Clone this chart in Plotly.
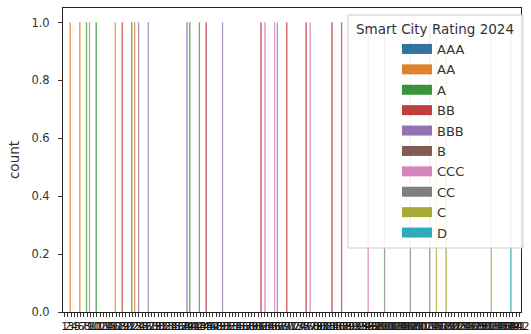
import plotly.graph_objects as go

# ---- data ----
n_cities = 142
city_ranks = [str(i) for i in range(1, n_cities + 1)]          # x categories (tick labels)
rating_levels = ["AAA", "AA", "A", "BB", "BBB", "B", "CCC", "CC", "C", "D"]
rating_colors = ["#3274a1", "#e1812c", "#3a923a", "#c03d3e", "#9372b2",
                 "#845b53", "#d684bd", "#7f7f7f", "#a9aa35", "#2eabb8"]

bar_rank = ["3", "6", "8", "9", "11", "17", "19", "22", "23", "24", "27", "39", "40",
            "43", "45", "50", "62", "63", "66", "67", "70", "76", "77", "84", "87",
            "95", "100", "108", "114", "116", "119", "133", "139"]
bar_rating = ["AA", "AA", "A", "AA", "A", "AA", "BB", "A", "AA", "BBB", "BBB", "BBB", "A",
              "A", "BB", "BBB", "BB", "CCC", "CCC", "BBB", "BB", "BB", "CCC", "BB", "BB",
              "CCC", "CC", "CC", "CC", "C", "C", "C", "D"]
bar_count = [1] * len(bar_rank)

# ---- figure ----
W, H = 531, 334
L, R, T, B = 63, 10, 8, 22
pw, ph = W - L - R, H - T - B

fig = go.Figure()
nlev = len(rating_levels)
group_w = 0.8
bw = group_w / nlev
for k, (lev, col) in enumerate(zip(rating_levels, rating_colors)):
    xs = [r for r, g in zip(bar_rank, bar_rating) if g == lev]
    ys = [c for c, g in zip(bar_count, bar_rating) if g == lev]
    fig.add_trace(go.Bar(
        x=xs, y=ys, width=bw, offset=-group_w / 2 + k * bw,
        marker=dict(color=col, line=dict(color=col, width=1)),
        opacity=0.75, showlegend=False, hoverinfo="skip"))

for lev, col in zip(rating_levels, rating_colors):
    fig.add_trace(go.Scatter(
        x=[None], y=[None], mode="lines", name=lev, legendgroup=lev,
        line=dict(color=col, width=10), showlegend=True))

font_c = "#333333"
fig.update_layout(
    width=W, height=H,
    margin=dict(l=L, r=R, t=T, b=B, autoexpand=False),
    paper_bgcolor="white", plot_bgcolor="white",
    barmode="overlay",
    font=dict(family="DejaVu Sans", size=12, color=font_c),
    xaxis=dict(
        type="category", categoryorder="array", categoryarray=city_ranks,
        range=[-0.5, n_cities - 0.5], tickmode="array", tickvals=city_ranks,
        ticktext=city_ranks, tickangle=0, ticks="outside", ticklen=4,
        tickcolor="#333", tickfont=dict(size=10.5, color="#1a1a1a"),
        showline=True, linecolor="#222", linewidth=1, mirror=True,
        showgrid=False, zeroline=False, automargin=False),
    yaxis=dict(
        range=[0, 1.05], tickmode="array", tickvals=[0, 0.2, 0.4, 0.6, 0.8, 1.0],
        tickformat=".1f", ticks="outside", ticklen=4, tickcolor="#333",
        ticklabelstandoff=6, tickfont=dict(size=11.5),
        showline=True, linecolor="#222", linewidth=1, mirror=True,
        showgrid=False, zeroline=False, automargin=False,
        title=dict(text="count", standoff=8, font=dict(size=13.5))),
    legend=dict(
        x=(397 - L) / pw, y=(312 - 34) / ph, xanchor="left", yanchor="top",
        bgcolor="rgba(0,0,0,0)", borderwidth=0, itemwidth=30,
        tracegroupgap=0.5, font=dict(size=13, color=font_c)),
    shapes=[dict(
        type="rect", xref="paper", yref="paper", layer="above",
        x0=(348 - L) / pw, x1=(523 - L) / pw, y0=(312 - 248) / ph, y1=(312 - 15) / ph,
        fillcolor="rgba(255,255,255,0.85)", line=dict(color="#cccccc", width=1))],
    annotations=[dict(
        text="Smart City Rating 2024", xref="paper", yref="paper",
        x=(435 - L) / pw, y=(312 - 29) / ph, xanchor="center", yanchor="middle",
        showarrow=False, font=dict(size=13.5, color=font_c))],
)

fig.write_html("out.html", config={"displayModeBar": False},
               post_script="document.body.style.margin='0';document.body.style.padding='0';")
